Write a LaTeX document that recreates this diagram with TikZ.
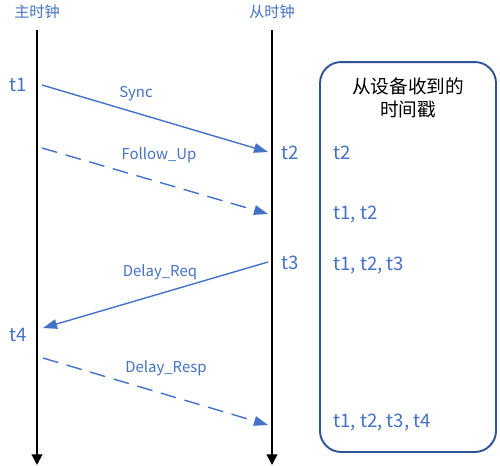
\documentclass[tikz,border=0pt]{standalone}
\usepackage{fontspec}
\setmainfont{Noto Sans CJK SC}
\usepackage{tikz}
\usetikzlibrary{positioning,arrows.meta}
\definecolor{pblue}{HTML}{4472C4}
\definecolor{bblue}{HTML}{2F5597}
\tikzset{
	clock/.style={line width=1.1pt,-{Triangle[length=6pt,width=6pt]}},
	msg/.style={pblue,line width=0.8pt,-{Triangle[length=8pt,width=5.5pt]}},
	lbl/.style={pblue,font=\fontsize{8.5}{10}\selectfont},
	ts/.style={pblue,font=\fontsize{10.6}{12}\selectfont,inner sep=0pt}
}
\begin{document}
\begin{tikzpicture}[x=0.02cm,y=-0.02cm]
		\useasboundingbox (0,0) rectangle (500,466);
		\node(m) [pblue,font=\fontsize{8.6}{10}\selectfont] at (37,12) {主时钟};
		\node(s) [pblue,font=\fontsize{8.6}{10}\selectfont] at (272,12) {从时钟};
		\draw [clock] (37,30) coordinate(mtop) -- (37,465) coordinate(mbot);
		\draw [clock] (272,30) coordinate(stop) -- (272,465) coordinate(sbot);
		\node(1) [ts] at (18,85) {t1};
		\node(2) [ts] at (290,153) {t2};
		\node(3) [ts] at (290,263) {t3};
		\node(4) [ts] at (18,335) {t4};
		\coordinate (a1) at (42,85);   \coordinate (b1) at (268,152);
		\coordinate (a2) at (42,148);  \coordinate (b2) at (268,214);
		\coordinate (b3) at (268,262); \coordinate (a3) at (43,328);
		\coordinate (a4) at (43,358);  \coordinate (b4) at (268,425);
		\draw [msg] (a1) -- (b1);
		\draw [msg,dash pattern=on 9pt off 5pt] (a2) -- (b2);
		\draw [msg] (b3) -- (a3);
		\draw [msg,dash pattern=on 9pt off 5pt] (a4) -- (b4);
		\node [lbl] at (136,94) {Sync};
		\node [lbl] at (159,155) {Follow\_Up};
		\node [lbl] at (160,272) {Delay\_Req};
		\node [lbl] at (166,368) {Delay\_Resp};
		% received timestamps
		\node(box) [draw=bblue,line width=1.1pt,rounded corners=12pt,inner sep=0pt,
			minimum width=3.52cm,minimum height=7.8cm] at (408,257) {};
		\node(h) [font=\fontsize{10.6}{13}\selectfont,align=center,below=0.22cm of box.north] {从设备收到的\\时间戳};
		\node(r1) [ts,anchor=west] at (333,153) {t2};
		\node(r2) [ts,anchor=west] at (333,215) {t1, t2};
		\node(r3) [ts,anchor=west] at (333,266) {t1, t2, t3};
		\node(r4) [ts,anchor=west] at (333,423) {t1, t2, t3, t4};
	\end{tikzpicture}
\end{document}
